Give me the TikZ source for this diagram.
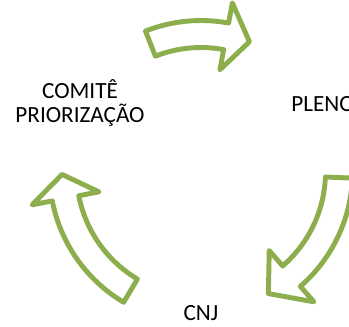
\documentclass[tikz,border=0pt]{standalone}
\usepackage{fontspec}
\setmainfont{Carlito}
\definecolor{arrowgreen}{RGB}{141,174,76}

\begin{document}
\begin{tikzpicture}[x=0.02cm,y=0.02cm]
\tikzset{
  cyclearrow/.style={draw=arrowgreen,line width=2.8pt,line join=round,fill=white},
  stagelabel/.style={font=\fontsize{13.2}{13.6}\selectfont,inner sep=0pt,align=center}
}
\useasboundingbox (0,0) rectangle (349,-326);
\node[stagelabel] (n_comite) at (80,-103) {COMITÊ\\PRIORIZAÇÃO};
\node[stagelabel,anchor=base west] (n_pleno) at (291,-111) {PLENO};
\node[stagelabel,anchor=base] (n_cnj) at (201,-320.5) {CNJ};
\begin{scope}[shift={(201,-172)}]
\draw[cyclearrow] (111.5:151.5) arc[start angle=111.5,end angle=79.5,radius=151.5]
  -- (79.5:172) -- (69.6:139) -- (79.5:104) -- (79.5:124.5)
  arc[start angle=79.5,end angle=111.5,radius=124.5] -- cycle;
\draw[cyclearrow] (-2.3:151.5) arc[start angle=-2.3,end angle=-49,radius=151.5]
  -- (-49:172) -- (-61:139) -- (-49:104) -- (-49:124.5)
  arc[start angle=-49,end angle=-2.3,radius=124.5] -- cycle;
\draw[cyclearrow] (239.3:151.5) arc[start angle=239.3,end angle=191,radius=151.5]
  -- (191:172) -- (181:139) -- (191:104) -- (191:124.5)
  arc[start angle=191,end angle=239.3,radius=124.5] -- cycle;
\end{scope}
\end{tikzpicture}
\end{document}
